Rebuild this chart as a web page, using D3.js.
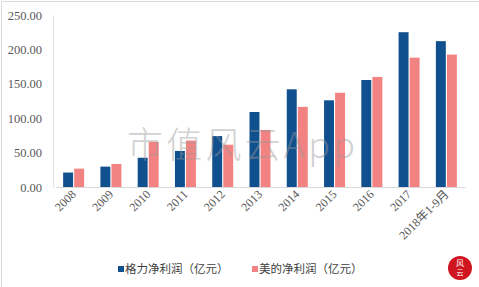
<!DOCTYPE html>
<html>
<head>
<meta charset="utf-8">
<script src="https://cdn.jsdelivr.net/npm/d3@7"></script>
<style>
  body { margin: 0; background: #fff; }
  svg { display: block; }
</style>
</head>
<body>
<div id="chart"></div>
<script>
const years = ['2008', '2009', '2010', '2011', '2012', '2013', '2014', '2015', '2016', '2017', '2018年1-9月'];
const greeProfit = [21.0, 29.6, 42.5, 52.4, 74.0, 109.0, 142.0, 126.0, 155.5, 225.0, 212.0];
const mideaProfit = [26.7, 33.5, 65.5, 67.5, 61.5, 83.0, 116.5, 137.0, 160.0, 188.0, 192.5];
const seriesNames = ['格力净利润（亿元）', '美的净利润（亿元）'];
const seriesColors = ['#10508f', '#f38383'];
const yTicks = [0, 50, 100, 150, 200, 250];

const width = 479;
const height = 287;

const svg = d3.select('#chart').append('svg')
  .attr('width', width)
  .attr('height', height);

// outer frame (left and top edges show in the picture)
svg.append('path')
  .attr('d', 'M1.5,287 L1.5,1.5 L479,1.5')
  .attr('fill', 'none')
  .attr('stroke', '#d9d9d9');

const xScale = d3.scaleBand()
  .domain(years)
  .range([55, 465]);

const subScale = d3.scaleBand()
  .domain([0, 1])
  .range([-10.5, 10.5])
  .paddingInner(0.1);

const yScale = d3.scaleLinear()
  .domain([0, 250])
  .range([187, 15]);

// y axis
const yAxis = d3.axisLeft(yScale)
  .tickValues(yTicks)
  .tickSize(0)
  .tickPadding(11)
  .tickFormat(d3.format('.2f'));

const yAxisG = svg.append('g')
  .attr('transform', 'translate(53,0)')
  .call(yAxis);
yAxisG.select('.domain').attr('stroke', '#e3e3e3');
yAxisG.selectAll('text')
  .attr('font-family', '"Liberation Serif", serif')
  .attr('font-size', 12.5)
  .attr('fill', '#595959');

// bars
const rows = years.map((y, i) => ({ year: y, values: [greeProfit[i], mideaProfit[i]] }));

const groups = svg.selectAll('.grp')
  .data(rows)
  .enter()
  .append('g')
  .attr('class', 'grp')
  .attr('transform', (d) => `translate(${xScale(d.year) + xScale.bandwidth() / 2},0)`);

groups.selectAll('rect')
  .data((d) => d.values.map((v, k) => ({ k, v })))
  .enter()
  .append('rect')
  .attr('x', (d) => subScale(d.k))
  .attr('width', subScale.bandwidth())
  .attr('y', (d) => yScale(d.v))
  .attr('height', (d) => yScale(0) - yScale(d.v))
  .attr('fill', (d) => seriesColors[d.k]);

// x axis
const xAxis = d3.axisBottom(xScale).tickSize(0).tickPadding(0);
const xAxisG = svg.append('g')
  .attr('transform', `translate(0,${yScale(0)})`)
  .call(xAxis);
xAxisG.select('.domain').attr('stroke', '#d9d9d9');
xAxisG.selectAll('text')
  .attr('font-family', '"Liberation Serif", "Noto Sans CJK SC", serif')
  .attr('font-size', 12)
  .attr('fill', '#595959')
  .attr('text-anchor', 'end')
  .attr('dy', null)
  .attr('y', 0)
  .attr('transform', 'translate(3,8) rotate(-45)');

// watermark, drawn over the bars
svg.append('text')
  .attr('x', 127)
  .attr('y', 158)
  .attr('textLength', 228)
  .attr('font-family', '"Noto Sans CJK SC", sans-serif')
  .attr('font-weight', 300)
  .attr('font-size', 36)
  .attr('fill', '#9a9a9a')
  .attr('opacity', 0.45)
  .text('市值风云App');

// legend
const legendX = [118, 252];
const legend = svg.selectAll('.legend')
  .data(seriesNames)
  .enter()
  .append('g')
  .attr('class', 'legend')
  .attr('transform', (d, i) => `translate(${legendX[i]},269)`);

legend.append('rect')
  .attr('x', 0)
  .attr('y', -3)
  .attr('width', 6)
  .attr('height', 6)
  .attr('fill', (d, i) => seriesColors[i]);

legend.append('text')
  .attr('x', 7)
  .attr('y', 0)
  .attr('dy', '0.36em')
  .attr('font-family', '"Noto Sans CJK SC", sans-serif')
  .attr('font-size', 11.5)
  .attr('fill', '#404040')
  .text((d) => d);

// stamp logo
svg.append('circle')
  .attr('cx', 460)
  .attr('cy', 268)
  .attr('r', 12)
  .attr('fill', '#cf1520');
svg.append('text')
  .attr('x', 460)
  .attr('y', 266)
  .attr('text-anchor', 'middle')
  .attr('font-family', '"Noto Sans CJK SC", sans-serif')
  .attr('font-size', 8)
  .attr('fill', '#fff')
  .text('风');
svg.append('text')
  .attr('x', 460)
  .attr('y', 275)
  .attr('text-anchor', 'middle')
  .attr('font-family', '"Noto Sans CJK SC", sans-serif')
  .attr('font-size', 7)
  .attr('fill', '#fff')
  .text('云');
</script>
</body>
</html>
